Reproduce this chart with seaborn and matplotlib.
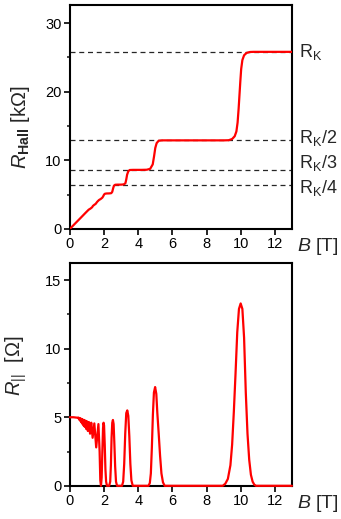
import numpy as np
import pandas as pd
import matplotlib
matplotlib.use('Agg')
import matplotlib.pyplot as plt
import matplotlib.transforms as mtransforms
from matplotlib.ticker import MultipleLocator
import seaborn as sns

# Hall resistance (kOhm) vs field (T)
b_hall = [0.0, 0.3, 0.6, 0.9, 1.1, 1.2, 1.3, 1.35, 1.45, 1.5, 1.6, 1.7, 1.8,
          1.9, 1.95, 2.0, 2.05, 2.15, 2.3, 2.42, 2.48, 2.53, 2.58, 2.65, 2.8,
          3.0, 3.15, 3.25, 3.3, 3.35, 3.42, 3.5, 3.7, 4.2, 4.5, 4.7, 4.85,
          4.93, 5.0, 5.08, 5.2, 5.4, 6.0, 7.0, 8.0, 9.0, 9.3, 9.5, 9.65, 9.75,
          9.82, 9.88, 9.93, 9.98, 10.03, 10.1, 10.2, 10.35, 10.55, 10.75,
          11.5, 13.0]
r_hall = [0.0, 0.77, 1.53, 2.3, 2.8, 2.95, 3.15, 3.35, 3.55, 3.62, 3.95,
          4.2, 4.35, 4.55, 4.75, 5.0, 5.12, 5.16, 5.17, 5.2, 5.4, 5.9, 6.3,
          6.43, 6.45, 6.45, 6.48, 6.65, 7.2, 7.9, 8.4, 8.58, 8.6, 8.6, 8.62,
          8.75, 9.4, 10.6, 11.8, 12.5, 12.85, 12.9, 12.9, 12.9, 12.9, 12.9,
          12.92, 13.1, 13.5, 14.2, 15.5, 17.5, 19.5, 21.5, 23.3, 24.6, 25.3,
          25.65, 25.78, 25.8, 25.8, 25.8]

# plateau levels (kOhm) and their labels
rk_levels = [25.81, 12.91, 8.6, 6.45]
rk_labels = [r'R$_\mathrm{K}$', r'R$_\mathrm{K}$/2', r'R$_\mathrm{K}$/3', r'R$_\mathrm{K}$/4']
rk_label_y = [25.8, 13.3, 9.6, 5.9]

# longitudinal resistance (Ohm) vs field (T)
b_long = [0.0, 0.2, 0.4, 0.5, 0.51, 0.526, 0.54, 0.556, 0.57, 0.59, 0.606,
          0.625, 0.645, 0.667, 0.69, 0.714, 0.74, 0.77, 0.8, 0.833, 0.87,
          0.91, 0.95, 1.0, 1.05, 1.11, 1.18, 1.25, 1.33, 1.43, 1.54, 1.67,
          1.74, 1.78, 1.82, 1.86, 1.9, 1.94, 1.97, 2.0, 2.04, 2.08, 2.12,
          2.17, 2.3, 2.36, 2.4, 2.44, 2.48, 2.52, 2.56, 2.6, 2.65, 2.7, 2.76,
          3.05, 3.12, 3.18, 3.24, 3.3, 3.36, 3.42, 3.48, 3.54, 3.6, 3.68,
          4.6, 4.68, 4.74, 4.8, 4.86, 4.92, 4.99, 5.06, 5.12, 5.2, 5.28, 5.36,
          5.45, 5.55, 8.95, 9.1, 9.25, 9.4, 9.5, 9.6, 9.7, 9.8, 9.9, 10.0,
          10.1, 10.2, 10.3, 10.4, 10.5, 10.6, 10.7, 10.8, 10.9, 13.0]
r_long = [5.0, 5.0, 4.97, 4.97, 4.9, 4.95, 4.85, 4.93, 4.8, 4.9, 4.75,
          4.9, 4.7, 4.88, 4.6, 4.85, 4.5, 4.82, 4.4, 4.8, 4.3, 4.75, 4.15,
          4.7, 4.0, 4.65, 3.8, 4.6, 3.5, 4.55, 2.8, 4.5, 2.5, 0.4, 0.0, 0.6,
          2.5, 4.2, 4.6, 4.4, 3.0, 1.2, 0.3, 0.0, 0.0, 0.3, 1.5, 3.5, 4.6,
          4.8, 4.5, 3.2, 1.4, 0.3, 0.0, 0.0, 0.3, 1.6, 3.8, 5.3, 5.5, 5.1,
          3.6, 1.6, 0.4, 0.0, 0.0, 0.2, 0.9, 2.8, 5.2, 6.8, 7.2, 6.7, 5.3,
          3.8, 2.2, 0.9, 0.25, 0.0, 0.0, 0.15, 0.5, 1.5, 3.0, 5.4, 8.2,
          11.2, 12.9, 13.3, 12.9, 10.8, 6.8, 3.8, 1.9, 0.8, 0.3, 0.08, 0.0,
          0.0]

hall_df = pd.DataFrame({'B': b_hall, 'R': r_hall})
long_df = pd.DataFrame({'B': b_long, 'R': r_long})

sns.set_style('ticks')
plt.rcParams['font.family'] = ['Liberation Sans', 'DejaVu Sans']
plt.rcParams['mathtext.fontset'] = 'custom'
plt.rcParams['mathtext.rm'] = 'Liberation Sans'
plt.rcParams['mathtext.it'] = 'Liberation Sans:italic'
plt.rcParams['mathtext.bf'] = 'Liberation Sans:bold'

fig = plt.figure(figsize=(3.41, 5.19), dpi=100)
ax1 = fig.add_axes([0.205, 0.559, 0.651, 0.431])
ax2 = fig.add_axes([0.205, 0.064, 0.651, 0.429])

red = '#ff0000'
sns.lineplot(data=hall_df, x='B', y='R', ax=ax1, color=red, lw=1.6,
             estimator=None, sort=False, zorder=5)
sns.lineplot(data=long_df, x='B', y='R', ax=ax2, color=red, lw=1.6,
             estimator=None, sort=False, zorder=5, clip_on=False)

for lev in rk_levels:
    ax1.axhline(lev, color='0.15', lw=0.9, ls=(0, (4, 3)), zorder=2)

trans = mtransforms.blended_transform_factory(ax1.transAxes, ax1.transData)
for lab, yy in zip(rk_labels, rk_label_y):
    ax1.annotate(lab, xy=(1, yy), xycoords=trans, xytext=(5, 0),
                 textcoords='offset points', ha='left', va='center',
                 fontsize=13, annotation_clip=False)

ax1.set_xlim(0, 13)
ax1.set_ylim(0, 32.6)
ax2.set_xlim(0, 13)
ax2.set_ylim(0, 16.24)

ax1.yaxis.set_major_locator(MultipleLocator(10))
ax1.yaxis.set_minor_locator(MultipleLocator(5))
ax2.yaxis.set_major_locator(MultipleLocator(5))
ax2.yaxis.set_minor_locator(MultipleLocator(2.5))

ax1.set_ylabel(r'$R_{\mathbf{Hall}}$ [k$\Omega$]', fontsize=14.5)
ax2.set_ylabel(r'$R_{||}$  [$\Omega$]', fontsize=14.5)
ax1.yaxis.set_label_coords(-0.17, 0.455)
ax2.yaxis.set_label_coords(-0.185, 0.54)

for ax in (ax1, ax2):
    ax.xaxis.set_major_locator(MultipleLocator(2))
    ax.set_xlabel('')
    ax.tick_params(which='major', direction='out', length=4, width=1.2,
                   labelsize=10.5, colors='black', pad=2)
    ax.tick_params(which='minor', direction='out', length=2.5, width=1.2)
    ax.tick_params(axis='x', which='minor', bottom=False)
    for sp in ax.spines.values():
        sp.set_visible(True)
        sp.set_linewidth(1.5)
        sp.set_color('black')
    ax.annotate(r'$B$ [T]', xy=(1, 0), xycoords='axes fraction',
                xytext=(4, -13), textcoords='offset points', ha='left',
                va='center', fontsize=14, annotation_clip=False)

fig.savefig('out.png', dpi=100)
